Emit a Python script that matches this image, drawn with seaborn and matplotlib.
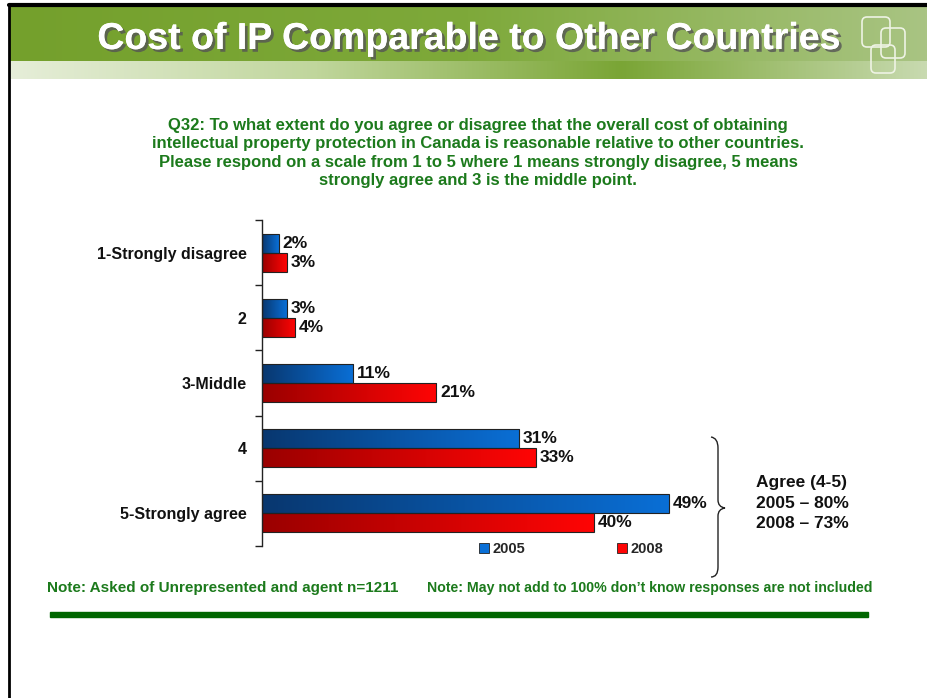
import numpy as np
import pandas as pd
import matplotlib
matplotlib.use('Agg')
import matplotlib.pyplot as plt
import seaborn as sns
from matplotlib.colors import LinearSegmentedColormap
from matplotlib.patches import Rectangle, FancyBboxPatch, PathPatch
from matplotlib.path import Path
import matplotlib.patheffects as pe

categories = ['1-Strongly disagree', '2', '3-Middle', '4', '5-Strongly agree']
years = ['2005', '2008']
values_2005 = [2, 3, 11, 31, 49]
values_2008 = [3, 4, 21, 33, 40]
agree_lines = ['Agree (4-5)', '2005 \u2013 80%', '2008 \u2013 73%']

title = 'Cost of IP Comparable to Other Countries'
question = ('Q32: To what extent do you agree or disagree that the overall cost of obtaining\n'
            'intellectual property protection in Canada is reasonable relative to other countries.\n'
            'Please respond on a scale from 1 to 5 where 1 means strongly disagree, 5 means\n'
            'strongly agree and 3 is the middle point.')
note_left = 'Note: Asked of Unrepresented and agent n=1211'
note_right = 'Note: May not add to 100% don\u2019t know responses are not included'

df = pd.DataFrame({
    'category': categories * 2,
    'year': [years[0]] * 5 + [years[1]] * 5,
    'value': values_2005 + values_2008,
})

sns.set_style('white')
plt.rcParams['font.family'] = ['Liberation Sans', 'DejaVu Sans']

W, H = 928, 698
fig = plt.figure(figsize=(W / 100, H / 100), dpi=100)

# background layer in pixel coordinates
bg = fig.add_axes([0, 0, 1, 1], zorder=0)
bg.set_xlim(0, W)
bg.set_ylim(H, 0)
bg.axis('off')

# banner
upper = LinearSegmentedColormap.from_list('up', ['#74a02c', '#7ea93a', '#a9c483'])
lower = LinearSegmentedColormap.from_list('lo', ['#e6eed9', '#c0d69c', '#7aa535', '#c8dab0'])
grad = np.linspace(0, 1, 512).reshape(1, -1)
bg.imshow(grad, cmap=upper, extent=[9, W, 61, 7], aspect='auto', zorder=1)
bg.imshow(grad, cmap=lower, extent=[9, W, 79, 61], aspect='auto', zorder=1)

bg.text(469, 39, title, fontsize=27, fontweight='bold', color='white', ha='center', va='center',
        zorder=3, path_effects=[pe.withSimplePatchShadow(offset=(2, -2), shadow_rgbFace='#555555', alpha=0.8), pe.Normal()])

for (x, y, w, h) in [(862, 17, 28, 30), (881, 28, 24, 30), (871, 45, 24, 28)]:
    bg.add_patch(FancyBboxPatch((x, y), w, h, boxstyle='round,pad=0,rounding_size=5',
                                fill=False, edgecolor='#eef3e4', linewidth=1.2, zorder=2))

# slide borders
bg.plot([9.5, 9.5], [5, H], color='black', linewidth=2, zorder=4)
bg.plot([9, W], [5, 5], color='black', linewidth=3, zorder=4)

# question and notes
green = '#1c7a1c'
bg.text(478, 153, question, fontsize=12, fontweight='bold', color=green, ha='center', va='center',
        linespacing=1.3)
bg.text(47, 588, note_left, fontsize=11, fontweight='bold', color=green, ha='left', va='center')
bg.text(427, 588, note_right, fontsize=10.2, fontweight='bold', color=green, ha='left', va='center')
bg.add_patch(Rectangle((50, 612), 818, 5, color='#006600', zorder=2))

# brace
verts = [(711, 437), (718, 438), (718, 448), (718, 500), (718, 507), (725, 508),
         (718, 509), (718, 516), (718, 567), (718, 577), (711, 577)]
codes = [Path.MOVETO, Path.CURVE3, Path.CURVE3, Path.LINETO, Path.CURVE3, Path.CURVE3,
         Path.CURVE3, Path.CURVE3, Path.LINETO, Path.CURVE3, Path.CURVE3]
bg.add_patch(PathPatch(Path(verts, codes), fill=False, edgecolor='#222222', linewidth=1, zorder=3))
bg.text(756, 503, '\n'.join(agree_lines), fontsize=12.5, fontweight='bold', color='#111111',
        ha='left', va='center', linespacing=1.5)

# main chart
ax = fig.add_axes([262 / W, 1 - 546 / H, 498 / W, 326 / H], zorder=2)
ax.patch.set_alpha(0)
sns.barplot(data=df, y='category', x='value', hue='year', order=categories, hue_order=years,
            orient='h', width=0.585, palette=['#0a5fc0', '#e00000'], ax=ax, legend=False,
            edgecolor='#222222', linewidth=0.8)

grads = [('#08376f', '#0a6fd6'), ('#9a0000', '#ff0505')]
for container, (c0, c1), vals in zip(ax.containers, grads, [values_2005, values_2008]):
    cmap = LinearSegmentedColormap.from_list('', [c0, c1])
    for bar, v in zip(container, vals):
        x0, y0, w, h = bar.get_x(), bar.get_y(), bar.get_width(), bar.get_height()
        im = ax.imshow(grad, cmap=cmap, extent=[x0, x0 + w, y0 + h, y0], aspect='auto', zorder=2)
        im.set_clip_path(bar)
        bar.set_facecolor('none')
        bar.set_zorder(3)
        ax.text(x0 + w + 0.45, y0 + h / 2, f'{v}%', fontsize=12.5, fontweight='bold',
                color='#111111', ha='left', va='center', zorder=4)

ax.set_xlim(0, 60)
ax.set_ylim(4.5, -0.5)
ax.set_xlabel('')
ax.set_ylabel('')
ax.set_xticks([])
for s in ['top', 'right', 'bottom']:
    ax.spines[s].set_visible(False)
ax.spines['left'].set_color('#222222')
ax.spines['left'].set_linewidth(1)
ax.set_yticks(range(len(categories)))
ax.set_yticklabels(categories, fontsize=11.5, fontweight='bold', color='#111111')
ax.tick_params(axis='y', which='major', length=0, pad=11)
ax.set_yticks(np.arange(-0.5, 5, 1), minor=True)
ax.tick_params(axis='y', which='minor', length=5, width=1, color='#222222', direction='out', left=True)

# legend
handles = [Rectangle((0, 0), 1, 1, facecolor=c1, edgecolor='#222222', linewidth=0.6) for _, c1 in grads]
fig.legend(handles, years, loc='center', bbox_to_anchor=(571 / W, 1 - 549 / H), ncol=2, frameon=False,
           handlelength=0.7, handleheight=0.7, handletextpad=0.2, columnspacing=6.3,
           prop={'weight': 'bold', 'size': 10.5})

fig.savefig('out.png', dpi=100)
